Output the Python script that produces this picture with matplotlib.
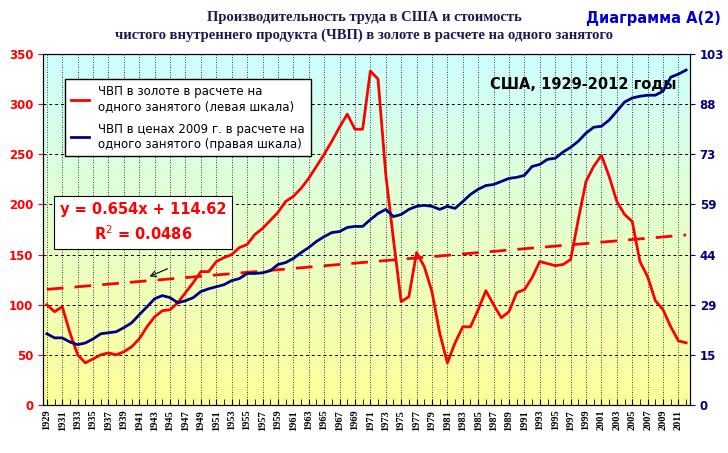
import numpy as np
import matplotlib.pyplot as plt
from matplotlib.colors import LinearSegmentedColormap

years = np.arange(1929, 2013)

# ЧВП в золоте на одного занятого (левая шкала)
gold = [100, 93, 98, 72, 50, 42, 46, 50, 52, 50, 53, 58, 66, 78, 88, 94, 95, 102, 112, 122,
        133, 133, 143, 147, 150, 157, 160, 170, 176, 184, 192, 203, 208, 216, 226, 238, 250,
        263, 277, 290, 275, 275, 333, 325, 230, 165, 103, 108, 152, 138, 113, 72, 42, 62, 78,
        78, 95, 114, 100, 87, 93, 112, 115, 127, 143, 141, 139, 140, 145, 185, 223, 238, 249,
        228, 203, 190, 183, 143, 128, 104, 95, 78, 64, 62]

# ЧВП в ценах 2009 г. на одного занятого (правая шкала)
real = [20.9, 19.7, 19.7, 18.5, 17.7, 18.2, 19.4, 20.9, 21.2, 21.5, 22.7, 24.1, 26.5, 28.8,
        31.2, 32.1, 31.5, 30.0, 30.6, 31.5, 33.3, 34.1, 34.7, 35.3, 36.5, 37.1, 38.6, 38.6,
        38.8, 39.4, 41.2, 41.8, 43.0, 44.7, 46.2, 48.0, 49.4, 50.6, 50.9, 52.1, 52.4, 52.4,
        54.4, 56.2, 57.4, 55.3, 55.9, 57.4, 58.3, 58.6, 58.3, 57.4, 58.3, 57.7, 59.7, 61.8,
        63.3, 64.4, 64.7, 65.6, 66.5, 66.8, 67.4, 70.0, 70.6, 72.1, 72.4, 74.2, 75.6, 77.4,
        79.8, 81.5, 81.8, 83.6, 86.2, 88.9, 90.1, 90.6, 90.9, 90.9, 92.1, 96.2, 97.1, 98.3]

slope, intercept = 0.654, 114.62
left_ticks = np.arange(0, 351, 50)
right_labels = ['0', '15', '29', '44', '59', '73', '88', '103']

fig = plt.figure(figsize=(7.28, 4.53), dpi=100)
ax = fig.add_axes([43 / 728, 48 / 453, 647 / 728, 351 / 453])
ax2 = ax.twinx()

# gradient background cyan -> yellow
grad = np.linspace(0, 1, 256).reshape(-1, 1)
cmap = LinearSegmentedColormap.from_list('bg', ['#ffff99', '#ccffff'])
ax.imshow(grad, aspect='auto', cmap=cmap, origin='lower',
          extent=[1928.5, 2012.5, 0, 350], zorder=0)

ax.set_xlim(1928.5, 2012.5)
ax.set_ylim(0, 350)
ax2.set_ylim(0, 103)

for y in left_ticks[1:]:
    ax.axhline(y, color='black', ls=(0, (3, 3)), lw=0.7, zorder=1)
for yr in years[::2]:
    ax.axvline(yr, color='black', ls=(0, (1, 2)), lw=0.6, zorder=1)

ax.plot(years, slope * (years - 1928) + intercept, color='red', ls=(0, (6, 4)), lw=2, zorder=3)
ax.plot(years, gold, color='red', lw=2, zorder=4, label='ЧВП в золоте в расчете на\nодного занятого (левая шкала)')
ax2.plot(years, real, color='#000080', lw=2, zorder=4, label='ЧВП в ценах 2009 г. в расчете на\nодного занятого (правая шкала)')

ax.set_yticks(left_ticks)
ax.tick_params(axis='y', colors='red', labelsize=8.5)
for t in ax.get_yticklabels():
    t.set_fontweight('bold')
ax2.set_yticks([v * 103 / 350 for v in left_ticks])
ax2.set_yticklabels(right_labels, color='#000080', fontsize=8.5, fontweight='bold')
ax2.tick_params(axis='y', colors='#000080')

ax.set_xticks(years[::2])
ax.set_xticks(years, minor=True)
ax.set_xticklabels([str(y) for y in years[::2]], rotation=90, fontsize=7.5,
                   family='Liberation Serif', fontweight='bold')
ax.tick_params(axis='x', which='both', direction='in', length=4)

h1, l1 = ax.get_legend_handles_labels()
h2, l2 = ax2.get_legend_handles_labels()
ax2.legend(h1 + h2, l1 + l2, loc='upper left', bbox_to_anchor=(0.025, 0.945),
           fontsize=8.5, frameon=True, fancybox=False, edgecolor='black',
           handlelength=1.5, labelspacing=0.8, framealpha=1, borderpad=0.5)

ax2.text(0.835, 0.9, 'США, 1929-2012 годы', transform=ax.transAxes, fontsize=10.5,
         fontweight='bold', ha='center')
ax2.text(0.155, 0.52, 'y = 0.654x + 114.62\nR$^2$ = 0.0486', transform=ax.transAxes,
         color='red', fontsize=10.5, fontweight='bold', ha='center', va='center', linespacing=1.5,
         bbox=dict(facecolor='white', edgecolor='black', lw=0.8, pad=4))
ax.annotate('', xy=(1942, 127), xytext=(1945, 137),
            arrowprops=dict(arrowstyle='->', color='black', lw=0.8), zorder=6)

fig.text(0.5, 0.975, 'Производительность труда в США и стоимость\n'
         'чистого внутреннего продукта (ЧВП) в золоте в расчете на одного занятого',
         ha='center', va='top', fontsize=10.5, fontweight='bold', color='#1a1a4d',
         family='Liberation Serif', linespacing=1.4)
fig.text(0.99, 0.975, 'Диаграмма А(2)', ha='right', va='top', fontsize=10.5,
         fontweight='bold', color='#0000cc')

fig.savefig('out.png', dpi=100)
